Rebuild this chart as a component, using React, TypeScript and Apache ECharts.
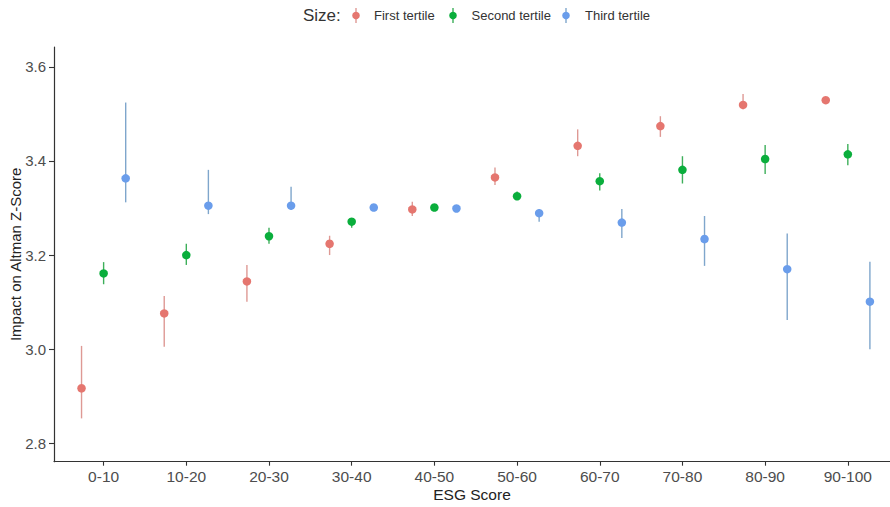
import React, { useEffect, useRef } from 'react';
import * as echarts from 'echarts';

const categories = ['0-10', '10-20', '20-30', '30-40', '40-50', '50-60', '60-70', '70-80', '80-90', '90-100'];
const groupNames = ['First tertile', 'Second tertile', 'Third tertile'];

const firstMean = [2.917, 3.076, 3.144, 3.224, 3.297, 3.365, 3.432, 3.474, 3.519, 3.529];
const firstLow = [2.853, 3.005, 3.101, 3.200, 3.283, 3.349, 3.410, 3.451, 3.510, 3.526];
const firstHigh = [3.007, 3.113, 3.179, 3.241, 3.313, 3.386, 3.467, 3.495, 3.542, 3.532];

const secondMean = [3.161, 3.200, 3.240, 3.271, 3.301, 3.325, 3.357, 3.381, 3.404, 3.414];
const secondLow = [3.138, 3.179, 3.224, 3.258, 3.296, 3.317, 3.337, 3.352, 3.372, 3.391];
const secondHigh = [3.185, 3.224, 3.258, 3.278, 3.306, 3.335, 3.374, 3.410, 3.434, 3.436];

const thirdMean = [3.363, 3.305, 3.305, 3.301, 3.299, 3.289, 3.269, 3.234, 3.170, 3.101];
const thirdLow = [3.312, 3.287, 3.296, 3.296, 3.294, 3.271, 3.236, 3.177, 3.062, 3.000];
const thirdHigh = [3.524, 3.381, 3.345, 3.306, 3.304, 3.298, 3.298, 3.283, 3.246, 3.186];

const yTicks = [2.8, 3.0, 3.2, 3.4, 3.6];

const pointColors = ['#E5766F', '#0AAE3C', '#6A9DEB'];
const lineColors = ['#DE9994', '#3DAF5A', '#7FA6CC'];

const FONT = '"Liberation Sans", Arial, sans-serif';

// legend layout (pixels)
const legendMarkerX = [356, 453, 566];
const legendTextX = [374, 471.5, 585];
const legendY = 15.5;

export default function App() {
  const ref = useRef<HTMLDivElement>(null);

  useEffect(() => {
    if (!ref.current) return;
    const chart = echarts.init(ref.current, null, { renderer: 'svg' });

    const groups = [
      { mean: firstMean, low: firstLow, high: firstHigh },
      { mean: secondMean, low: secondLow, high: secondHigh },
      { mean: thirdMean, low: thirdLow, high: thirdHigh },
    ];
    const dodge = [-0.267, 0, 0.267];

    const series: any[] = [];
    groups.forEach((g, gi) => {
      series.push({
        type: 'custom',
        name: groupNames[gi],
        silent: true,
        z: 2,
        encode: { x: 0, y: [1, 2] },
        data: g.mean.map((_, i) => [i + 1 + dodge[gi], g.low[i], g.high[i]]),
        renderItem: (params: any, api: any) => {
          const x = api.value(0);
          const p1 = api.coord([x, api.value(1)]);
          const p2 = api.coord([x, api.value(2)]);
          return {
            type: 'line',
            shape: { x1: p1[0], y1: p1[1], x2: p2[0], y2: p2[1] },
            style: { stroke: lineColors[gi], lineWidth: 1.4 },
          };
        },
      });
      series.push({
        type: 'scatter',
        name: groupNames[gi],
        symbol: 'circle',
        symbolSize: 8.5,
        z: 3,
        itemStyle: { color: pointColors[gi], opacity: 1 },
        data: g.mean.map((v, i) => [i + 1 + dodge[gi], v]),
      });
    });

    const legendGraphics: any[] = [
      {
        type: 'text',
        x: 303,
        y: legendY,
        style: {
          text: 'Size:',
          fontSize: 17,
          fill: '#333333',
          fontFamily: FONT,
          verticalAlign: 'middle',
          align: 'left',
        },
      },
    ];
    groupNames.forEach((n, i) => {
      legendGraphics.push({
        type: 'line',
        shape: { x1: legendMarkerX[i], y1: legendY - 7.5, x2: legendMarkerX[i], y2: legendY + 7.5 },
        style: { stroke: lineColors[i], lineWidth: 1.4 },
      });
      legendGraphics.push({
        type: 'circle',
        shape: { cx: legendMarkerX[i], cy: legendY, r: 3.8 },
        style: { fill: pointColors[i] },
      });
      legendGraphics.push({
        type: 'text',
        x: legendTextX[i],
        y: legendY,
        style: {
          text: n,
          fontSize: 13,
          fill: '#333333',
          fontFamily: FONT,
          verticalAlign: 'middle',
          align: 'left',
        },
      });
    });

    chart.setOption({
      animation: false,
      backgroundColor: '#ffffff',
      textStyle: { fontFamily: FONT },
      grid: { left: 54, right: 0, top: 47, bottom: 45.3, containLabel: false, outerBoundsMode: 'none' },
      graphic: legendGraphics,
      xAxis: {
        type: 'value',
        min: 0.4,
        max: 10.51,
        name: 'ESG Score',
        nameLocation: 'middle',
        nameGap: 24.5,
        nameMoveOverlap: false,
        nameTextStyle: { fontSize: 15.5, color: '#222222', fontFamily: FONT },
        axisLine: { show: true, lineStyle: { color: '#333333', width: 1.2 } },
        axisTick: {
          show: true,
          length: 4,
          customValues: categories.map((_, i) => i + 1),
          lineStyle: { color: '#333333', width: 1.1 },
        },
        axisLabel: {
          customValues: categories.map((_, i) => i + 1),
          formatter: (v: number) => categories[Math.round(v) - 1] ?? '',
          fontSize: 15.5,
          color: '#4d4d4d',
          margin: 7,
          fontFamily: FONT,
        },
        splitLine: { show: false },
      },
      yAxis: {
        type: 'value',
        min: 2.761,
        max: 3.642,
        name: 'Impact on Altman Z-Score',
        nameLocation: 'middle',
        nameGap: 31,
        nameMoveOverlap: false,
        nameTextStyle: { fontSize: 15, color: '#222222', fontFamily: FONT },
        axisLine: { show: true, lineStyle: { color: '#333333', width: 1.2 } },
        axisTick: {
          show: true,
          length: 5,
          customValues: yTicks,
          lineStyle: { color: '#333333', width: 1.1 },
        },
        axisLabel: {
          customValues: yTicks,
          formatter: (v: number) => v.toFixed(1),
          fontSize: 15,
          color: '#4d4d4d',
          margin: 8,
          fontFamily: FONT,
        },
        splitLine: { show: false },
      },
      series,
    });

    return () => {
      chart.dispose();
    };
  }, []);

  return (
    <div
      ref={ref}
      style={{ position: 'absolute', left: 0, top: 0, width: 890, height: 507, background: '#fff' }}
    />
  );
}
